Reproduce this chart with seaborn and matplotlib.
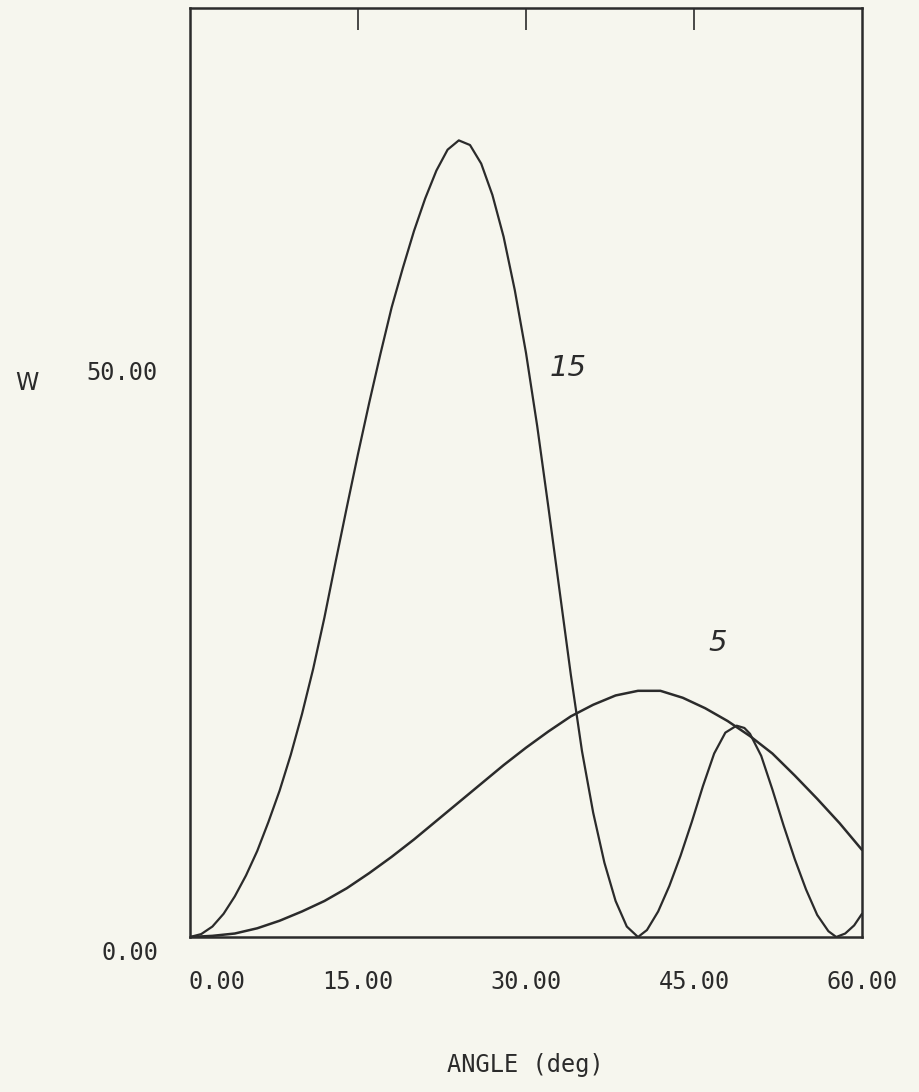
import numpy as np
import pandas as pd
import matplotlib
matplotlib.use("Agg")
import matplotlib.pyplot as plt
import matplotlib.transforms as mtransforms
import seaborn as sns

# =========================================
# DATA
# =========================================
ang15 = [0, 1, 2, 3, 4, 5, 6, 7, 8, 9, 10, 11, 12, 13, 14, 15, 16, 17, 18, 19, 20,
         21, 22, 23, 24, 25, 26, 27, 28, 29, 30, 31, 32, 33, 34, 35, 36, 37, 38,
         39, 40, 40.8, 41.8, 42.8, 43.8, 44.8, 45.8, 46.8, 47.8, 48.8, 49.5, 50,
         51, 52, 53, 54, 55, 56, 57, 57.7, 58.5, 59.3, 60]
w15 = [0, 0.25, 0.9, 2.0, 3.5, 5.3, 7.4, 9.9, 12.6, 15.7, 19.2, 23.1, 27.5, 32.3,
       37.0, 41.6, 46.0, 50.2, 54.2, 57.6, 60.8, 63.6, 66.0, 67.8, 68.6, 68.2,
       66.6, 63.9, 60.3, 55.7, 50.3, 44.0, 37.0, 29.8, 22.6, 16.0, 10.7, 6.4, 3.1,
       0.9, 0.0, 0.6, 2.2, 4.4, 7.0, 9.9, 13.0, 15.8, 17.6, 18.2, 18.0, 17.5,
       15.6, 12.7, 9.6, 6.7, 4.1, 1.9, 0.5, 0.0, 0.3, 1.0, 2.0]

ang5 = [0, 2, 4, 6, 8, 10, 12, 14, 16, 18, 20, 22, 24, 26, 28, 30, 32, 34, 36,
        38, 40, 42, 44, 46, 48, 50, 52, 54, 56, 58, 60]
w5 = [0, 0.1, 0.3, 0.75, 1.4, 2.2, 3.1, 4.2, 5.5, 6.9, 8.4, 10.0, 11.6, 13.2,
      14.8, 16.3, 17.7, 19.0, 20.0, 20.8, 21.2, 21.2, 20.6, 19.7, 18.6, 17.3,
      15.8, 13.9, 11.9, 9.8, 7.5]

xticks = [0, 15, 30, 45, 60]
xticklabels = ["0.00", "15.00", "30.00", "45.00", "60.00"]
yticks = [0, 50]
yticklabels = ["0.00", "50.00"]

df15 = pd.DataFrame({"angle": ang15, "W": w15})
df5 = pd.DataFrame({"angle": ang5, "W": w5})

# =========================================
# STYLE
# =========================================
sns.set_theme(style="white")
plt.rcParams["font.family"] = ["DejaVu Sans Mono", "DejaVu Sans"]
bg = "#f6f6ee"
ink = "#2b2b2b"

fig = plt.figure(figsize=(9.2, 10.92), dpi=100, facecolor=bg)
ax = fig.add_axes([190 / 920, 1 - 937 / 1092, 672 / 920, 929 / 1092])
ax.set_facecolor(bg)

sns.lineplot(data=df15, x="angle", y="W", ax=ax, color=ink, lw=1.6, sort=False)
sns.lineplot(data=df5, x="angle", y="W", ax=ax, color=ink, lw=1.8, sort=False)

ax.set_xlim(0, 60)
ax.set_ylim(0, 80)
ax.set_xlabel("")
ax.set_ylabel("")

for s in ax.spines.values():
    s.set_color(ink)
    s.set_linewidth(1.8)

# bottom ticks (outward) with labels
ax.set_xticks(xticks)
ax.set_xticklabels(xticklabels, fontsize=17, color=ink)
ax.tick_params(axis="x", direction="out", length=18, width=1.2, color=ink, pad=6)
for t in [ax.xaxis.get_major_ticks()[0], ax.xaxis.get_major_ticks()[-1]]:
    t.tick1line.set_visible(False)
lab0 = ax.get_xticklabels()[0]
lab0.set_transform(lab0.get_transform() +
                   mtransforms.ScaledTranslation(0.27, 0, fig.dpi_scale_trans))

# top ticks (inward), no labels
top = ax.secondary_xaxis("top")
top.set_xticks([15, 30, 45])
top.set_xticklabels([])
top.tick_params(axis="x", direction="in", length=16, width=1.2, color=ink)
top.spines["top"].set_visible(False)

# left labels, no tick marks
ax.set_yticks(yticks)
ax.set_yticklabels(yticklabels, fontsize=17, color=ink)
ax.tick_params(axis="y", length=0, pad=23)
for lab in ax.get_yticklabels():
    lab.set_transform(lab.get_transform() +
                      mtransforms.ScaledTranslation(0, -0.14, fig.dpi_scale_trans))

# curve labels
ax.text(33.75, 49.0, "15", fontsize=21, family="DejaVu Sans", style="italic",
        color=ink, ha="center", va="center")
ax.text(47.1, 25.3, "5", fontsize=21, family="DejaVu Sans", style="italic",
        color=ink, ha="center", va="center")

fig.text(15 / 920, 1 - 383 / 1092, "W", fontsize=17, color=ink,
         family="DejaVu Sans", ha="left", va="center")
fig.text(525 / 920, 1 - 1065 / 1092, "ANGLE (deg)", fontsize=17, color=ink,
         ha="center", va="center")

fig.savefig("out.png", dpi=100, facecolor=bg)
